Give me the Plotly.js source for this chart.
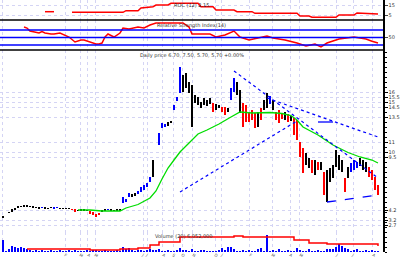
<!DOCTYPE html>
<html><head><meta charset="utf-8">
<script src="https://cdn.plot.ly/plotly-3.0.1.min.js"></script>
<style>html,body{margin:0;padding:0;background:#fff}#c{width:400px;height:257px}</style>
</head><body><div id="c"></div>
<script>
// ---- price bars (bar index 0..125) ----
const high = [3.6,null,4.05,4.3,4.4,4.6,4.65,4.7,4.7,4.65,
 4.6,4.5,4.5,4.55,4.5,4.45,4.5,4.5,4.5,4.45,
 4.4,4.45,4.4,4.35,4.3,4.25,4.3,4.3,4.25,4.1,
 4.0,3.8,3.9,4.2,4.3,4.35,4.3,4.25,4.3,4.3,
 5.5,5.3,5.9,5.8,5.9,6.1,6.5,6.7,6.9,7.5,
 9.2,null,11.9,12.9,12.8,13.0,13.1,14.7,15.5,18.5,
 17.7,17.9,17.0,16.7,15.7,15.5,15.0,15.4,15.2,15.4,
 14.9,14.8,14.7,14.5,14.5,14.4,16.4,17.4,17.0,16.2,
 14.9,14.7,14.0,14.2,13.9,14.0,14.4,15.2,15.9,15.6,
 15.2,14.0,14.2,13.9,14.0,13.8,13.6,13.4,13.2,11.0,
 10.4,9.9,9.4,9.2,9.2,9.0,9.0,8.0,8.2,8.4,
 8.7,10.2,9.7,9.2,7.4,8.5,8.9,9.2,9.0,9.4,
 9.2,9.0,8.5,8.2,7.5,6.7];
const low = [3.4,null,3.9,4.0,4.2,4.4,4.5,4.55,4.5,4.5,
 4.4,4.4,4.35,4.45,4.35,4.3,4.4,4.35,4.4,4.3,
 4.3,4.35,4.3,4.2,4.0,4.1,4.15,4.1,4.1,3.8,
 3.7,3.5,3.7,4.0,4.1,4.2,4.1,4.1,4.1,4.1,
 4.9,5.0,5.5,5.5,5.6,5.8,6.0,6.2,6.5,7.0,
 7.5,null,10.7,12.4,12.5,12.6,12.9,14.2,15.1,15.9,
 16.0,16.4,15.9,12.5,14.9,14.7,14.4,14.7,14.6,14.8,
 14.0,14.2,14.4,14.0,13.7,14.0,15.2,16.0,15.7,13.9,
 12.5,13.0,13.0,13.2,12.4,12.5,13.2,14.2,14.4,14.8,
 14.2,13.2,12.9,13.3,13.2,13.0,13.1,11.7,11.2,9.5,
 7.9,8.7,8.4,7.9,7.7,8.2,8.2,5.7,5.0,7.0,
 7.4,8.5,8.2,8.0,6.0,7.4,8.0,8.2,8.4,8.6,
 8.2,8.0,7.5,7.2,6.2,5.7];
const barClass = ("kkkkkkkkkkkkk"+"b"+"kkk"+"bb"+"kkkk"+"rr"+"kkkk"+"rrrr"+"kk"+"b"+"kkkk"+"bbb"+"kk"+"bbbbb"+"k"+"bbbb"+"kk"+"bbb"+"kkkkkkkkkk"+"r"+"kk"+"rr"+"k"+"bb"+"kk"+"rrrrr"+"k"+"r"+"kk"+"b"+"k"+"rrr"+"k"+"r"+"k"+"rrrr"+"kk"+"r"+"k"+"r"+"k"+"r"+"kkkkkk"+"r"+"k"+"bbb"+"kkk"+"rrrr").split('');

// ---- moving average (green) ----
const maX = [25,29,33,39,41,45,49,51,53,55,57,59,62,65,68,72,76,79,83,86,89,93,96,98,100,105,110,115,119,123,125];
const maY = [4.2,4.2,4.1,4.1,4.4,4.75,5.4,6.1,7.3,8.4,9.2,10.0,10.9,11.8,12.2,12.8,13.5,14.0,13.9,13.9,13.95,13.85,13.65,13.2,12.5,11.7,10.7,9.95,9.5,9.2,8.9];

// ---- trend lines (endpoints) ----
const trendA = {x:[59,98], y:[6.0,13.1]};
const trendB = {x:[77,125], y:[18.1,7.4]};
const trendC = {x:[88,125], y:[15.4,11.5]};
const trendD = {x:[108,125], y:[5.0,5.7]};
const levelSeg = {x:[105,110], y:[13.0,13.0]};

// ---- volume ----
const vol = [12,1,3,6,5,4,5,4,3,2, 1,2,1,2,1,1,2,1,1,2, 1,1,2,1,2,1,1,1,2,1,
 2,2,1,1,2,1,1,1,2,1, 5,3,4,2,1,2,2,1,2,3, 2,2,3,1,1,2,1,1,2,4,
 2,2,1,3,1,1,2,2,1,1, 1,1,2,4,2,5,5,3,1,1, 2,1,2,1,1,3,4,1,17,1,
 2,1,3,1,1,2,1,1,4,2, 1,1,3,1,1,2,1,1,3,3, 3,5,8,6,4,3,1,2,3,1, 1,2,1,2,1,1];
const vmaX = [8,29,39,45,49,52,59,77,80,97,102,108,125];
const vmaY = [3,2,3,4,7,10,15,16,15,12,9,8,6];

// ---- RSI ----
const rsiX = [7,8,9,11,12,13,14,16,17,19,21,22,24,26,27,29,31,32,33,34,35,37,39,40,42,45,47,49,51,56,60,62,63,69,71,74,77,79,82,85,88,90,94,98,101,104,106,108,112,117,121,123,125];
const rsiY = [78,75.3,67.3,64.7,62,66,62,59.3,59.3,62,54,51.3,38,43.3,43.3,38,32.7,32.7,35.3,51.3,59.3,51.3,62,75.3,72.7,78,75.3,83.3,88.7,88.7,88.7,78,59.3,59.3,51.3,56.7,67.3,51.3,43.3,48.7,54,48.7,43.3,35.3,27.3,32.7,24.7,35.3,46,51.3,46,40,35.3];
const rsiLevels = [70,50,30];

// ---- top indicator ----
const topX = [14,17,null,23,40,41,45,46,50,51,55,56,65,66,70,71,77,78,83,84,98,99,102,103,111,112,117,118,125];
const topY = [8.3,8.3,null,7.7,7.7,9.3,9.3,12,13.3,15,15,16.7,16.7,13.3,13.3,10,10,8.3,8.3,6.7,6.7,4,4,2.7,2.7,5,5,7,6];

// ---- axes ticks ----
const gridX = [-0.33,20.67,25.67,28.33,30.67,46.67,48,53.33,56.67,59.67,63.33,70.67,73,82.33,89.67,95.67,99,111.33,116.67,123.33];
const gridXLabels = ["J","F","M","A","M","J","J","A","S","O","N","D","J","F","M","A","M","J","J","A"];
const priceTicks = [2.7,3.2,4.2,9.5,10.0,11.0,13.5,14.5,15.0,15.5,16.0];

const colorMap = {k:'#000000', b:'#0000ff', r:'#ff0000'};
const idx = high.map((_, i) => i);
const H = 252; // plot-area height in px
const d = px => 1 - px / H;

const traces = [
 {type:'bar', x:idx, base:low, y:high.map((h,i)=> h==null?null:Math.max(h-low[i],0.08)),
  width:0.45, marker:{color:barClass.map(c=>colorMap[c]), line:{width:0}}, xaxis:'x', yaxis:'y', hoverinfo:'skip'},
 {type:'scatter', mode:'lines', x:maX, y:maY, line:{color:'#00dd00', width:1.3}, yaxis:'y'},
 {type:'scatter', mode:'lines', x:trendA.x, y:trendA.y, line:{color:'#0000ff', width:1.2, dash:'dot'}, yaxis:'y'},
 {type:'scatter', mode:'lines', x:trendB.x, y:trendB.y, line:{color:'#0000ff', width:1.2, dash:'dot'}, yaxis:'y'},
 {type:'scatter', mode:'lines', x:trendC.x, y:trendC.y, line:{color:'#0000ff', width:1.2, dash:'dot'}, yaxis:'y'},
 {type:'scatter', mode:'lines', x:trendD.x, y:trendD.y, line:{color:'#0000ff', width:1.3, dash:'dash'}, yaxis:'y'},
 {type:'scatter', mode:'lines', x:levelSeg.x, y:levelSeg.y, line:{color:'#0000ff', width:1.3}, yaxis:'y'},
 {type:'bar', x:idx, y:vol, width:0.5, marker:{color:'#0000ff', line:{width:0}}, yaxis:'y2'},
 {type:'scatter', mode:'lines', x:vmaX, y:vmaY, line:{color:'#ff0000', width:1.5, shape:'hv'}, yaxis:'y2'},
 {type:'scatter', mode:'lines', x:rsiX, y:rsiY, line:{color:'#ff0000', width:1.5}, yaxis:'y3'},
 {type:'scatter', mode:'lines', x:topX, y:topY, line:{color:'#ff0000', width:1.5}, yaxis:'y4', connectgaps:false}
];

const gridCol = '#d4d4f4';
const tf = {family:'DejaVu Sans', size:5, color:'#333'};
const xf = {family:'DejaVu Sans', size:4, color:'#555'};
const shapes = [
 {type:'line', xref:'paper', yref:'paper', x0:0, x1:1, y0:d(20), y1:d(20), line:{color:'#000', width:1.5}},
 {type:'line', xref:'paper', yref:'paper', x0:0, x1:1, y0:d(50), y1:d(50), line:{color:'#000', width:1.5}}
].concat(rsiLevels.map(v => ({type:'line', xref:'paper', yref:'y3', x0:0, x1:1, y0:v, y1:v, line:{color:'#0000ff', width:1.5}})));

const layout = {
 width:400, height:257, margin:{l:0, r:17, t:0, b:5, pad:0},
 paper_bgcolor:'#fff', plot_bgcolor:'#fff', showlegend:false, bargap:0,
 xaxis:{range:[-1,126.67], tickvals:gridX, ticktext:gridXLabels, showgrid:true, gridcolor:gridCol, griddash:'dot', gridwidth:1,
   zeroline:false, showline:false, ticks:'', ticklen:0, tickfont:xf, ticklabelstandoff:-1, anchor:'y'},
 yaxis:{domain:[0,d(50)], range:[0,20.2], side:'right', showline:true, linecolor:'#000', linewidth:1.5, ticks:'outside', ticklen:3, tickcolor:'#000',
   tickvals:priceTicks, showgrid:true, gridcolor:gridCol, griddash:'dot', zeroline:false, tickfont:tf,
   minor:{ticks:'outside', ticklen:2, tickcolor:'#000', dtick:0.5, showgrid:false}},
 yaxis2:{domain:[0,d(232)], range:[0,20], visible:false, anchor:'x'},
 yaxis3:{domain:[d(50),d(20)], range:[16.7,96.7], side:'right', showline:true, linecolor:'#000', linewidth:1.5, ticks:'outside', ticklen:3,
   tickvals:[50], showgrid:false, zeroline:false, tickfont:tf, anchor:'x'},
 yaxis4:{domain:[d(20),1], range:[0,20], side:'right', showline:true, linecolor:'#000', linewidth:1.5, ticks:'outside', ticklen:3,
   tickvals:[5,15], showgrid:true, gridcolor:gridCol, griddash:'dot', zeroline:false, tickfont:tf, anchor:'x'},
 shapes:shapes,
 annotations:[
  {xref:'paper', yref:'paper', x:0.5, y:1, yanchor:'top', text:'ROC (12) 2.15', showarrow:false, font:tf},
  {xref:'paper', yref:'paper', x:0.5, y:d(20), yanchor:'top', text:'Relative Strength Index(14)', showarrow:false, font:tf},
  {xref:'paper', yref:'paper', x:0.5, y:d(50), yanchor:'top', text:'Daily price 6.70, 7.50, 5.70, 5.70 +0.00%', showarrow:false, font:tf},
  {xref:'paper', yref:'paper', x:0.48, y:d(236), yanchor:'middle', text:'Volume (20) 6,052,000', showarrow:false, font:tf}
 ]
};
Plotly.newPlot('c', traces, layout, {staticPlot:true, displayModeBar:false});
</script></body></html>
